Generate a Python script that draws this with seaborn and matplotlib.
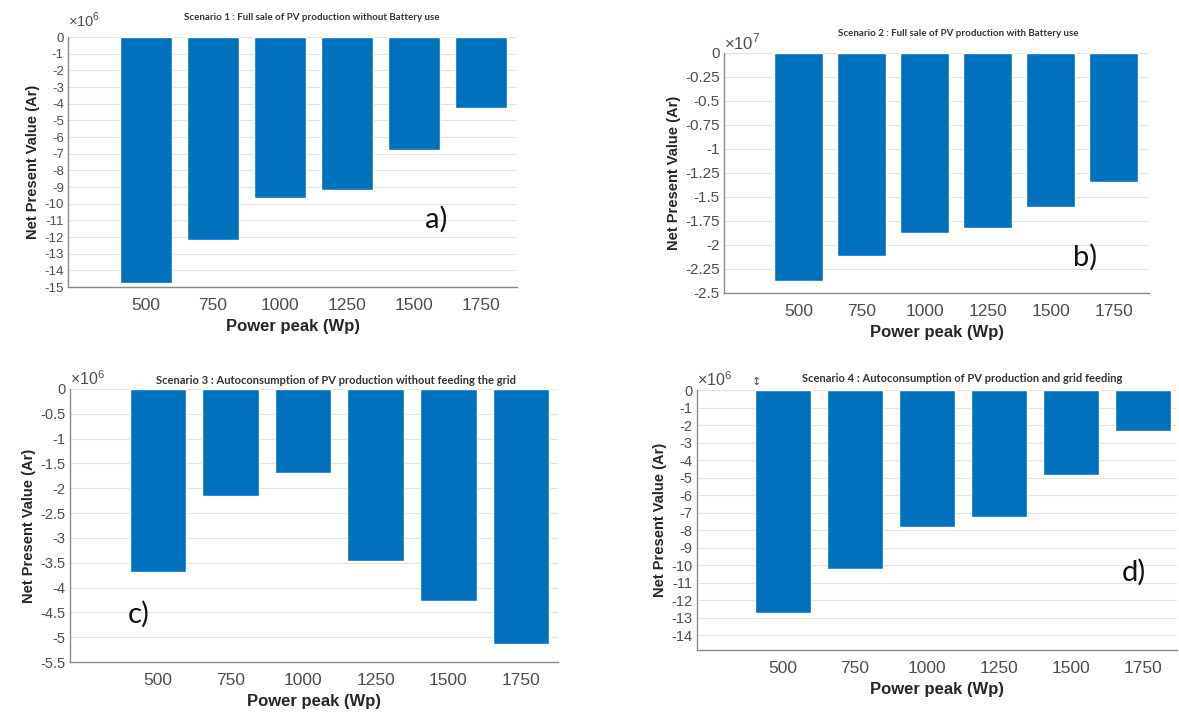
import numpy as np
import pandas as pd
import matplotlib
matplotlib.use("Agg")
import matplotlib.pyplot as plt
import seaborn as sns
from matplotlib.ticker import FuncFormatter, FixedLocator

# power peak categories (Wp)
powers = ["500", "750", "1000", "1250", "1500", "1750"]

# Net present value (Ar)
npv_s1 = [-14.75e6, -12.2e6, -9.65e6, -9.15e6, -6.8e6, -4.25e6]
npv_s2 = [-2.38e7, -2.11e7, -1.88e7, -1.82e7, -1.60e7, -1.34e7]
npv_s3 = [-3.69e6, -2.15e6, -1.70e6, -3.47e6, -4.28e6, -5.13e6]
npv_s4 = [-12.75e6, -10.25e6, -7.8e6, -7.25e6, -4.85e6, -2.35e6]

titles = [
    "Scenario 1 : Full sale of PV production without Battery use",
    "Scenario 2 : Full sale of PV production with Battery use",
    "Scenario 3 : Autoconsumption of PV production without feeding the grid",
    "Scenario 4 : Autoconsumption of PV production and grid feeding",
]
panel_tags = ["a)", "b)", "c)", "d)"]
exponents = [6, 7, 6, 6]

BAR = "#0072BD"
TICK = "#4d4d4d"

sns.set_style("white")
plt.rcParams["font.family"] = ["Liberation Sans", "DejaVu Sans"]
plt.rcParams["mathtext.fontset"] = "custom"
plt.rcParams["mathtext.rm"] = "Liberation Sans"

W, H = 1179, 714
fig = plt.figure(figsize=(W / 100, H / 100), dpi=100)


def px_axes(left, right, top, bottom):
    return fig.add_axes([left / W, (H - bottom) / H, (right - left) / W, (bottom - top) / H])


def draw_panel(ax, values, idx, ylim, step, xlim, ytick_size, title_xy, title_size, tag_xy, off_y=1.003):
    scale = 10.0 ** exponents[idx]
    df = pd.DataFrame({"power": powers, "npv": values})
    sns.barplot(data=df, x="power", y="npv", order=powers, color=BAR,
                saturation=1, width=0.78, ax=ax)
    ax.set_xlim(*xlim)
    ax.set_ylim(ylim, 0)
    n = int(np.floor(-ylim / step + 1e-6))
    ticks = [-i * step for i in range(n + 1)]
    ax.yaxis.set_major_locator(FixedLocator(ticks))
    ax.yaxis.set_major_formatter(FuncFormatter(lambda v, p: f"{v / scale + 0.0:g}"))
    ax.grid(axis="y", color="#e3e3e3", linewidth=0.8)
    ax.set_axisbelow(True)
    for s in ["top", "right"]:
        ax.spines[s].set_visible(False)
    for s in ["left", "bottom"]:
        ax.spines[s].set_color("#8a8a8a")
        ax.spines[s].set_linewidth(1.0)
    ax.tick_params(axis="y", direction="in", length=3, color="#9a9a9a",
                   labelsize=ytick_size, labelcolor=TICK, pad=3)
    ax.tick_params(axis="x", direction="in", length=3, color="#9a9a9a",
                   labelsize=12.5, labelcolor=TICK, pad=8)
    ax.set_xlabel("Power peak (Wp)", fontsize=12, fontweight="bold", color="#262626", labelpad=4)
    ax.set_ylabel("Net Present Value (Ar)", fontsize=10.5, fontweight="bold", color="#262626", labelpad=3)
    ax.text(0.0, off_y, r"$\times10^{%d}$" % exponents[idx], transform=ax.transAxes,
            ha="left", va="bottom", fontsize=ytick_size + 1, color=TICK)
    ax.text(title_xy[0], title_xy[1], titles[idx], transform=ax.transAxes, ha="center",
            va="center", fontsize=title_size, fontweight="bold", color="#333333",
            family=["Lato", "DejaVu Sans"])
    ax.text(tag_xy[0], tag_xy[1], panel_tags[idx], transform=ax.transAxes, ha="center",
            va="center", fontsize=21, color="#111111", family=["Lato", "DejaVu Sans"])


ax_a = px_axes(68, 517, 37, 287)
ax_b = px_axes(724, 1149, 53, 293)
ax_c = px_axes(70, 558, 389, 662)
ax_d = px_axes(697, 1177, 390, 650)

draw_panel(ax_a, npv_s1, 0, -15e6, 1e6, (-1.16, 5.54), 9.5, (0.543, 1.08), 7, (0.82, 0.27), off_y=1.03)
draw_panel(ax_b, npv_s2, 1, -2.5e7, 0.25e7, (-1.19, 5.56), 11, (0.55, 1.083), 7, (0.85, 0.15))
draw_panel(ax_c, npv_s3, 2, -5.5e6, 0.5e6, (-1.21, 5.51), 10.5, (0.545, 1.03), 8, (0.14, 0.176))
draw_panel(ax_d, npv_s4, 3, -14.85e6, 1e6, (-1.19, 5.47), 10.5, (0.552, 1.046), 8, (0.91, 0.30))
ax_d.text(0.115, 1.01, "\u2195", transform=ax_d.transAxes, ha="left", va="bottom",
          fontsize=8, color=TICK, family=["DejaVu Sans"])

fig.savefig("out.png", dpi=100, facecolor="white")
